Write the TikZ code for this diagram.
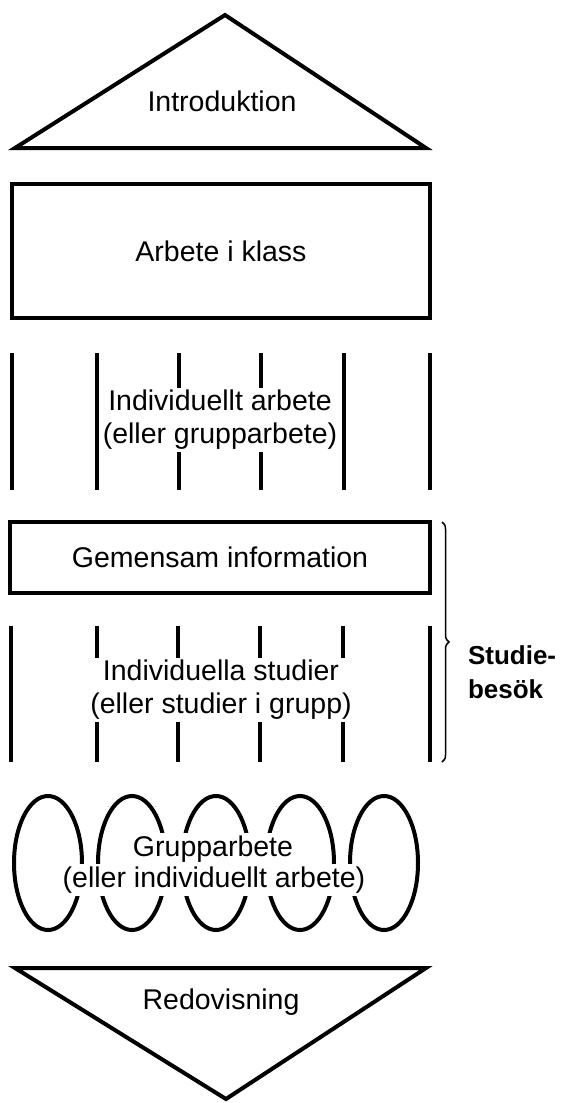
\documentclass[tikz,border=0pt]{standalone}
\usepackage{fontspec}
\setmainfont{Liberation Sans}
\usetikzlibrary{decorations.pathreplacing}

\begin{document}
\begin{tikzpicture}[x=1pt, y=-1pt, line width=4pt,
	every node/.style={font=\fontsize{28.5}{33}\selectfont, align=center},
	frame/.style={draw, inner sep=0pt},
	gap/.style={fill=white, inner sep=3pt}]
	\useasboundingbox (0,0) rectangle (574,1103);

	% Introduktion
	\draw (15,148) -- (225,15) -- (426,148) -- cycle;
	\node (intro) at (222,101) {Introduktion};

	% Arbete i klass
	\node[frame, minimum width=418pt, minimum height=134pt] (klass) at (221,251) {Arbete i klass};

	% Individuellt arbete
	\foreach \x in {12,97,179,261,344,430}
		\draw (\x,353) -- (\x,490);
	\node[gap, inner sep=2pt] (indiv) at (220,420) {Individuellt arbete\\(eller grupparbete)};

	% Gemensam information
	\node[frame, minimum width=420pt, minimum height=71pt] (info) at (220,557.5) {Gemensam information};

	% Individuella studier
	\foreach \x in {11,97,178,260,343,430}
		\draw (\x,626) -- (\x,762);
	\node[gap, inner sep=2pt] (studier) at (221,690) {Individuella studier\\(eller studier i grupp)};

	% Studiebesok
	\draw[line width=1.5pt, decorate, decoration={brace, amplitude=7pt}] (442,522) -- (442,762);
	\node[font=\fontsize{26}{34}\selectfont\bfseries, align=left, anchor=west, inner sep=0pt] (besok) at (466,672) {Studie-\\besök};

	% Grupparbete
	\foreach \x in {48,132,216,300,384}
		\draw (\x,863) ellipse [x radius=34, y radius=67];
	\node[gap] (grupp) at (213,849) {Grupparbete};
	\node[gap] (gruppalt) at (214,880) {(eller individuellt arbete)};

	% Redovisning
	\draw (15,968) -- (426,968) -- (226,1099) -- cycle;
	\node (redov) at (221,1002) {Redovisning};
\end{tikzpicture}
\end{document}
